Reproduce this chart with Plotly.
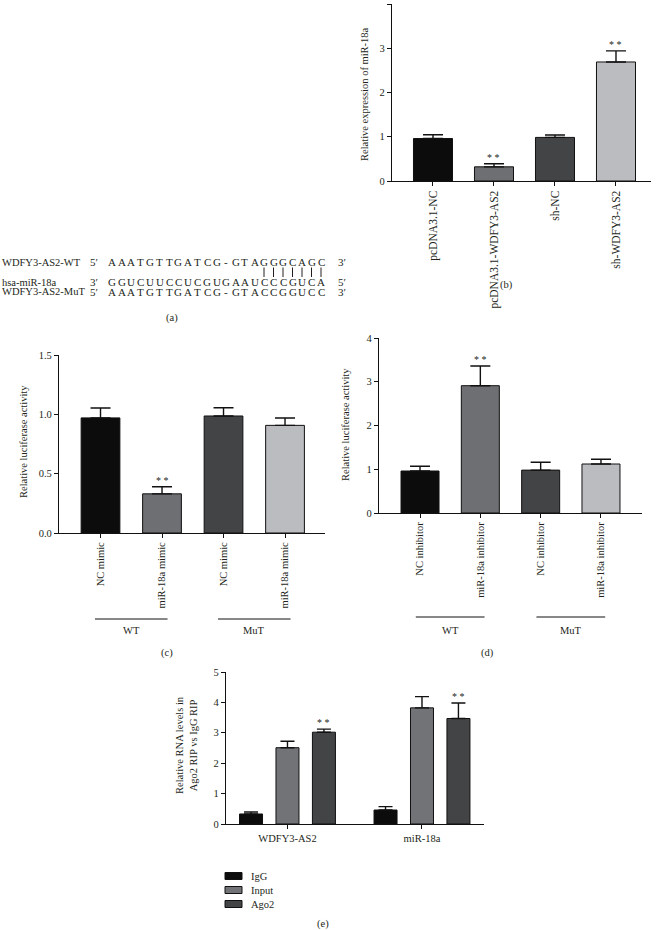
import plotly.graph_objects as go

W, H = 659, 930
FONT = "Liberation Serif"
TXT = "#231f20"

# ---------------- data ----------------
# (a) sequences
seq_labels = ["WDFY3-AS2-WT", "hsa-miR-18a", "WDFY3-AS2-MuT"]
seq_left_ends = ["5\u2032", "3\u2032", "5\u2032"]
seq_right_ends = ["3\u2032", "5\u2032", "3\u2032"]
seq_rows = ["AAATGTTGATCG-GTAGGGCAGC",
            "GGUCUUCCUCGUGAAUCCCGUCA",
            "AAATGTTGATCG-GTACCGGUCC"]
pair_positions = [16, 17, 18, 19, 20, 21, 22]

# (b)
b_labels = ["pcDNA3.1-NC", "pcDNA3.1-WDFY3-AS2", "sh-NC", "sh-WDFY3-AS2"]
b_values = [0.96, 0.32, 0.985, 2.69]
b_errors = [0.085, 0.07, 0.055, 0.25]
b_sig = [False, True, False, True]

# (c)
c_labels = ["NC mimic", "miR-18a mimic", "NC mimic", "miR-18a mimic"]
c_values = [0.97, 0.33, 0.986, 0.907]
c_errors = [0.083, 0.06, 0.07, 0.062]
c_sig = [False, True, False, False]
c_groups = [("WT", 0, 1), ("MuT", 2, 3)]

# (d)
d_labels = ["NC inhibitor", "miR-18a inhibitor", "NC inhibitor", "miR-18a inhibitor"]
d_values = [0.96, 2.91, 0.98, 1.12]
d_errors = [0.11, 0.45, 0.18, 0.11]
d_sig = [False, True, False, False]
d_groups = [("WT", 0, 1), ("MuT", 2, 3)]

# (e)
e_categories = ["WDFY3-AS2", "miR-18a"]
e_series = ["IgG", "Input", "Ago2"]
e_values = {"IgG": [0.33, 0.46], "Input": [2.51, 3.82], "Ago2": [3.02, 3.47]}
e_errors = {"IgG": [0.065, 0.11], "Input": [0.21, 0.37], "Ago2": [0.10, 0.51]}
e_sig = {"IgG": [False, False], "Input": [False, False], "Ago2": [True, True]}

four_colors = ["#0c0c0c", "#6e6f72", "#434446", "#bbbcbf"]
e_colors = {"IgG": "#0c0c0c", "Input": "#727376", "Ago2": "#434446"}


def fx(px):
    return px / W


def fy(py):
    return 1 - py / H


fig = go.Figure()
annotations = []
shapes = []


def text_ann(text, px, py, size=10.5, xanchor="center", angle=0):
    annotations.append(dict(x=fx(px), y=fy(py), xref="paper", yref="paper",
                            text=text, showarrow=False, textangle=angle,
                            xanchor=xanchor, yanchor="middle",
                            font=dict(family=FONT, size=size, color=TXT)))


def star_ann(x, y, xref, yref, xshift=0):
    annotations.append(dict(x=x, y=y, xref=xref, yref=yref, text="* *",
                            showarrow=False, xanchor="center",
                            yanchor="bottom", yshift=-1, xshift=xshift,
                            font=dict(family=FONT, size=10, color=TXT)))


def simple_panel(labels, values, errors, sig, ax, width):
    xs = list(range(len(labels)))
    xa = "x" if ax == 1 else f"x{ax}"
    ya = "y" if ax == 1 else f"y{ax}"
    fig.add_trace(go.Bar(
        x=xs, y=values, width=width, xaxis=xa, yaxis=ya,
        marker=dict(color=four_colors, line=dict(color="#111", width=1)),
        error_y=dict(type="data", symmetric=False, array=errors,
                     arrayminus=[0] * len(errors), color="#111",
                     thickness=1.4, width=10),
        showlegend=False))
    for i, s in enumerate(sig):
        if s:
            star_ann(xs[i], values[i] + errors[i], xa, ya)
    return xs


# (b)
xb = simple_panel(b_labels, b_values, b_errors, b_sig, 1, 0.64)
# (c)
xc = simple_panel(c_labels, c_values, c_errors, c_sig, 2, 0.63)
# (d)
xd = simple_panel(d_labels, d_values, d_errors, d_sig, 3, 0.63)

# (e)
slot = 0.271
bw = 0.171
e_unit_px = 258 / 1.918
for k, s in enumerate(e_series):
    off = (k - 1) * slot - bw / 2
    fig.add_trace(go.Bar(
        x=e_categories, y=e_values[s], name=s, xaxis="x4", yaxis="y4",
        width=bw, offset=off,
        marker=dict(color=e_colors[s], line=dict(color="#111", width=1)),
        error_y=dict(type="data", symmetric=False, array=e_errors[s],
                     arrayminus=[0, 0], color="#111", thickness=1.4, width=7),
        showlegend=False))
    for i, c in enumerate(e_categories):
        if e_sig[s][i]:
            star_ann(c, e_values[s][i] + e_errors[s][i], "x4", "y4",
                     xshift=(k - 1) * slot * e_unit_px)

# ---------------- axes ----------------
axis_common = dict(showgrid=False, zeroline=False, showline=True,
                   linecolor="#111", linewidth=1.2, ticks="outside",
                   ticklen=4, tickwidth=1.1, tickcolor="#111",
                   automargin=False)
tf = dict(family=FONT, size=10.5, color=TXT)
tf_b = dict(family=FONT, size=11.5, color=TXT)

layout = dict(
    width=W, height=H,
    margin=dict(l=0, r=0, t=0, b=0, pad=0, autoexpand=False),
    paper_bgcolor="white", plot_bgcolor="white",
    barmode="overlay", showlegend=False,
    font=dict(family=FONT, color=TXT),
    xaxis=dict(domain=[fx(392), fx(651)], range=[-0.672, 3.574], anchor="y",
               tickvals=xb, ticktext=b_labels, tickangle=-90, tickfont=tf_b,
               **axis_common),
    yaxis=dict(domain=[fy(181), fy(4)], range=[0, 4], dtick=1, anchor="x",
               tickfont=tf, **axis_common),
    xaxis2=dict(domain=[fx(59), fx(325)], range=[-0.675, 3.65], anchor="y2",
                tickvals=xc, ticktext=c_labels, tickangle=-90, tickfont=tf,
                **axis_common),
    yaxis2=dict(domain=[fy(533), fy(355)], range=[0, 1.5], dtick=0.5,
                tickformat=".1f", anchor="x2", tickfont=tf, **axis_common),
    xaxis3=dict(domain=[fx(379), fx(642)], range=[-0.68, 3.68], anchor="y3",
                tickvals=xd, ticktext=d_labels, tickangle=-90, tickfont=tf,
                **axis_common),
    yaxis3=dict(domain=[fy(513), fy(338)], range=[0, 4], dtick=1, anchor="x3",
                tickfont=tf, **axis_common),
    xaxis4=dict(domain=[fx(226), fx(484)], range=[-0.457, 1.461], anchor="y4",
                type="category", tickangle=0, tickfont=tf, **axis_common),
    yaxis4=dict(domain=[fy(824), fy(672)], range=[0, 5], dtick=1, anchor="x4",
                tickfont=tf, **axis_common),
)

# y-axis titles
text_ann("Relative expression of miR-18a", 364, 94, angle=-90)
text_ann("Relative luciferase activity", 23, 442, angle=-90)
text_ann("Relative luciferase activity", 345, 425, angle=-90)
text_ann("Relative RNA levels in<br>Ago2 RIP vs IgG RIP", 186, 745, angle=-90)


# group lines (c), (d)
def groups(grps, xref, half, py_line, py_text):
    for name, i0, i1 in grps:
        cx = (i0 + i1) / 2
        shapes.append(dict(type="line", xref=xref, yref="paper",
                           x0=cx - half, x1=cx + half, y0=fy(py_line), y1=fy(py_line),
                           line=dict(color="#111", width=1)))
        annotations.append(dict(x=cx, y=fy(py_text), xref=xref, yref="paper",
                                text=name, showarrow=False,
                                xanchor="center", yanchor="middle",
                                font=dict(family=FONT, size=10.5, color=TXT)))


groups(c_groups, "x2", 0.59, 619, 630)
groups(d_groups, "x3", 0.57, 617, 630)

# legend for (e): swatches + labels
leg_y = [876, 890, 904]
for s, py in zip(e_series, leg_y):
    shapes.append(dict(type="rect", xref="paper", yref="paper",
                       x0=fx(225), x1=fx(242), y0=fy(py + 3.5), y1=fy(py - 3.5),
                       fillcolor=e_colors[s], line=dict(color="#111", width=1)))
    text_ann(s, 249, py, xanchor="left")

# panel letters
for lab, px, py in [("(a)", 172, 318), ("(b)", 506, 285), ("(c)", 167, 653),
                    ("(d)", 488, 653), ("(e)", 323, 924)]:
    text_ann(lab, px, py)

# (a) sequence alignment
row_y = [262, 282.5, 291.5]
pitch = 9.5
x_start = 112
for r, (lab, le, re_, seq) in enumerate(zip(seq_labels, seq_left_ends,
                                             seq_right_ends, seq_rows)):
    text_ann(lab, 0, row_y[r], size=10.5, xanchor="left")
    text_ann(le, 94, row_y[r], size=11)
    text_ann(re_, 342, row_y[r], size=11)
    for i, ch in enumerate(seq):
        text_ann(ch, x_start + i * pitch, row_y[r], size=11)
# base-pairing ticks
for i in pair_positions:
    xp = fx(x_start + i * pitch)
    shapes.append(dict(type="line", xref="paper", yref="paper",
                       x0=xp, x1=xp, y0=fy(277), y1=fy(267.5),
                       line=dict(color=TXT, width=1)))

layout["annotations"] = annotations
layout["shapes"] = shapes
fig.update_layout(**layout)
fig.write_html("out.html", config={"displayModeBar": False},
               post_script="document.body.style.margin='0px';"
                           "document.body.style.overflow='hidden';")
